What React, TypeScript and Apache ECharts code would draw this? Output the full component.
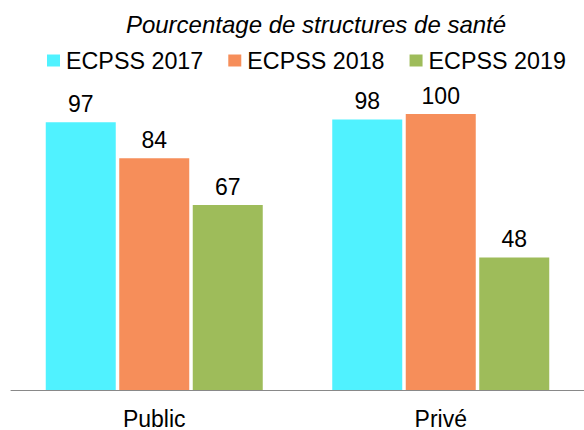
import React, { useEffect, useRef } from "react";
import * as echarts from "echarts";

const categories = ["Public", "Privé"];
const seriesNames = ["ECPSS 2017", "ECPSS 2018", "ECPSS 2019"];
const values2017 = [97, 98];
const values2018 = [84, 100];
const values2019 = [67, 48];
const colors = ["#50F2FF", "#F68E5A", "#9EBC5A"];

const FONT = "Liberation Sans, Arial, sans-serif";
const FS = 23;

export default function App() {
  const ref = useRef<HTMLDivElement>(null);
  useEffect(() => {
    if (!ref.current) return;
    const chart = echarts.init(ref.current, null, { renderer: "svg" });
    const data = [values2017, values2018, values2019];
    chart.setOption({
      animation: false,
      backgroundColor: "#ffffff",
      title: {
        text: "Pourcentage de structures de santé",
        left: 316,
        textAlign: "center",
        top: 12,
        padding: 0,
        textStyle: {
          fontFamily: FONT,
          fontSize: 24,
          fontStyle: "italic",
          fontWeight: "normal",
          color: "#000",
        },
      },
      legend: {
        left: 47,
        top: 49,
        padding: 0,
        itemWidth: 13,
        itemHeight: 12,
        itemGap: 25,
        icon: "rect",
        textStyle: { fontFamily: FONT, fontSize: 23.3, color: "#000", padding: [0, 0, 0, 1] },
        data: seriesNames,
      },
      grid: { left: 11, right: 0, top: 114, bottom: 39, containLabel: false },
      xAxis: {
        type: "category",
        data: categories,
        axisLine: { show: true, lineStyle: { color: "#898989", width: 1 } },
        axisTick: { show: false },
        axisLabel: { margin: 17, fontFamily: FONT, fontSize: FS, color: "#000" },
      },
      yAxis: {
        type: "value",
        min: 0,
        max: 100,
        show: false,
        splitLine: { show: false },
      },
      series: seriesNames.map((name, i) => ({
        name,
        type: "bar",
        data: data[i],
        barWidth: 70,
        barGap: "5%",
        itemStyle: { color: colors[i] },
        label: {
          show: true,
          position: "top",
          distance: 7,
          fontFamily: FONT,
          fontSize: FS,
          color: "#000",
        },
      })),
    });
    return () => chart.dispose();
  }, []);
  return <div ref={ref} style={{ width: 584, height: 430, position: "absolute", left: 0, top: 0 }} />;
}
